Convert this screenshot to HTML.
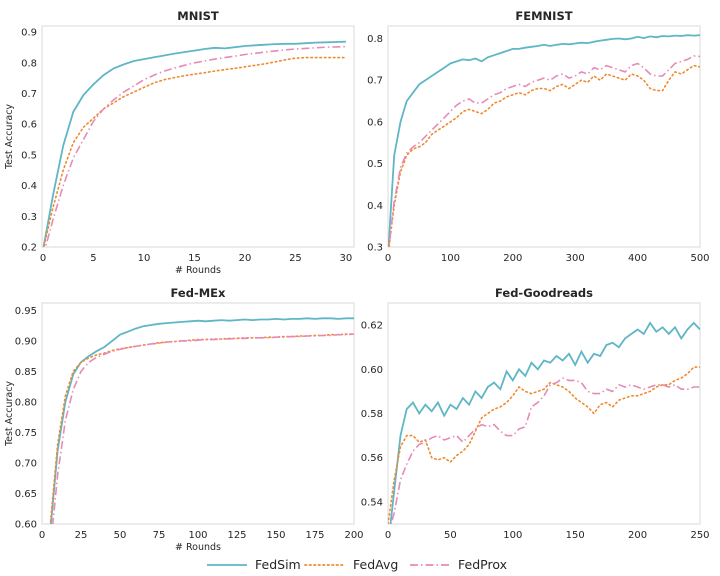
<!DOCTYPE html>
<html><head><meta charset="utf-8"><style>
html,body{margin:0;padding:0;background:#fff;overflow:hidden;font-family:"Liberation Sans","DejaVu Sans",sans-serif}
svg{display:block}
svg text{font-family:"DejaVu Sans","Liberation Sans",sans-serif;fill:#262626}
</style></head><body>
<svg id="c" width="720" height="576" xmlns="http://www.w3.org/2000/svg"></svg>
<script>
const seriesNames=["FedSim","FedAvg","FedProx"];
const mnistX=[0,1,2,3,4,5,6,7,8,9,10,11,12,13,14,15,16,17,18,19,20,21,22,23,24,25,26,27,28,29,30];
const mnistSim=[0.19,0.37,0.53,0.64,0.695,0.73,0.76,0.782,0.795,0.806,0.812,0.818,0.824,0.830,0.835,0.840,0.845,0.849,0.847,0.851,0.855,0.857,0.859,0.861,0.862,0.862,0.864,0.866,0.867,0.868,0.869];
const mnistAvg=[0.19,0.33,0.45,0.54,0.59,0.62,0.65,0.67,0.69,0.705,0.72,0.735,0.745,0.752,0.758,0.763,0.768,0.773,0.778,0.782,0.787,0.792,0.797,0.803,0.810,0.815,0.817,0.817,0.817,0.817,0.817];
const mnistProx=[0.17,0.29,0.40,0.49,0.55,0.61,0.65,0.68,0.705,0.725,0.745,0.76,0.773,0.783,0.792,0.80,0.806,0.812,0.817,0.822,0.827,0.831,0.835,0.839,0.842,0.845,0.847,0.849,0.851,0.852,0.853];
const femX=[0,10,20,30,40,50,60,70,80,90,100,110,120,130,140,150,160,170,180,190,200,210,220,230,240,250,260,270,280,290,300,310,320,330,340,350,360,370,380,390,400,410,420,430,440,450,460,470,480,490,500];
const femSim=[0.28,0.52,0.60,0.65,0.67,0.69,0.70,0.71,0.72,0.73,0.74,0.745,0.75,0.748,0.752,0.745,0.755,0.76,0.765,0.77,0.775,0.775,0.778,0.78,0.782,0.785,0.782,0.785,0.787,0.786,0.788,0.79,0.789,0.792,0.795,0.797,0.799,0.80,0.798,0.80,0.804,0.801,0.805,0.803,0.806,0.805,0.807,0.806,0.808,0.807,0.808];
const femAvg=[0.28,0.40,0.48,0.52,0.535,0.54,0.55,0.57,0.58,0.59,0.60,0.61,0.625,0.63,0.625,0.62,0.63,0.645,0.65,0.66,0.665,0.67,0.665,0.675,0.68,0.68,0.675,0.685,0.69,0.68,0.69,0.70,0.695,0.71,0.70,0.715,0.71,0.705,0.70,0.715,0.71,0.70,0.68,0.675,0.675,0.70,0.72,0.715,0.725,0.735,0.732];
const femProx=[0.28,0.41,0.49,0.525,0.54,0.55,0.565,0.58,0.595,0.61,0.625,0.64,0.65,0.655,0.645,0.645,0.655,0.665,0.67,0.68,0.685,0.69,0.685,0.695,0.70,0.705,0.70,0.71,0.715,0.705,0.71,0.72,0.715,0.73,0.725,0.735,0.73,0.725,0.72,0.735,0.74,0.73,0.715,0.71,0.71,0.725,0.74,0.745,0.75,0.758,0.757];
const mexX=[0,5,10,15,20,25,30,35,40,45,50,55,60,65,70,75,80,85,90,95,100,105,110,115,120,125,130,135,140,145,150,155,160,165,170,175,180,185,190,195,200];
const mexSim=[0.45,0.58,0.72,0.80,0.845,0.865,0.875,0.883,0.89,0.90,0.91,0.915,0.92,0.924,0.926,0.928,0.929,0.930,0.931,0.932,0.933,0.932,0.933,0.934,0.933,0.934,0.935,0.934,0.935,0.935,0.936,0.935,0.936,0.936,0.937,0.936,0.937,0.937,0.936,0.937,0.937];
const mexAvg=[0.45,0.59,0.73,0.81,0.85,0.865,0.872,0.877,0.88,0.884,0.887,0.889,0.891,0.893,0.895,0.897,0.898,0.899,0.900,0.901,0.902,0.902,0.903,0.903,0.904,0.904,0.905,0.905,0.905,0.906,0.906,0.907,0.907,0.908,0.908,0.909,0.909,0.910,0.910,0.911,0.911];
const mexProx=[0.42,0.55,0.68,0.77,0.82,0.85,0.865,0.873,0.878,0.883,0.886,0.889,0.891,0.893,0.895,0.896,0.898,0.899,0.900,0.900,0.901,0.902,0.902,0.903,0.903,0.904,0.904,0.905,0.905,0.905,0.906,0.906,0.907,0.907,0.908,0.908,0.909,0.909,0.910,0.910,0.911];
const grX=[0,5,10,15,20,25,30,35,40,45,50,55,60,65,70,75,80,85,90,95,100,105,110,115,120,125,130,135,140,145,150,155,160,165,170,175,180,185,190,195,200,205,210,215,220,225,230,235,240,245,250];
const grSim=[0.52,0.545,0.57,0.582,0.585,0.580,0.584,0.581,0.585,0.579,0.584,0.582,0.587,0.584,0.590,0.587,0.592,0.594,0.591,0.599,0.595,0.600,0.597,0.603,0.600,0.604,0.603,0.606,0.604,0.607,0.602,0.608,0.603,0.607,0.606,0.611,0.612,0.610,0.614,0.616,0.618,0.616,0.621,0.617,0.619,0.616,0.619,0.614,0.618,0.621,0.618];
const grAvg=[0.53,0.55,0.565,0.570,0.570,0.567,0.568,0.560,0.559,0.560,0.558,0.561,0.563,0.566,0.572,0.578,0.580,0.582,0.583,0.585,0.588,0.592,0.590,0.589,0.590,0.591,0.594,0.593,0.592,0.590,0.587,0.585,0.583,0.580,0.584,0.585,0.583,0.586,0.587,0.588,0.588,0.589,0.590,0.592,0.593,0.593,0.595,0.596,0.598,0.601,0.601];
const grProx=[0.525,0.535,0.550,0.557,0.563,0.566,0.567,0.569,0.570,0.568,0.569,0.570,0.567,0.570,0.573,0.575,0.574,0.575,0.572,0.570,0.570,0.573,0.574,0.583,0.585,0.588,0.593,0.594,0.596,0.595,0.595,0.594,0.590,0.589,0.589,0.591,0.590,0.593,0.592,0.593,0.592,0.591,0.592,0.593,0.593,0.592,0.593,0.591,0.591,0.592,0.592];
const mnistYTicks=[0.2,0.3,0.4,0.5,0.6,0.7,0.8,0.9];
const mnistXTicks=[0,5,10,15,20,25,30];
const femYTicks=[0.3,0.4,0.5,0.6,0.7,0.8];
const femXTicks=[0,100,200,300,400,500];
const mexYTicks=[0.60,0.65,0.70,0.75,0.80,0.85,0.90,0.95];
const mexXTicks=[0,25,50,75,100,125,150,175,200];
const grYTicks=[0.54,0.56,0.58,0.60,0.62];
const grXTicks=[0,50,100,150,200,250];

const NS="http://www.w3.org/2000/svg";
const svg=document.getElementById('c');
const colors=["#5fb6c6","#ef8a2e","#e68bb8"];
const dashes=["","1.5,3","8,3,1.5,3"];
function el(t,a,p){const e=document.createElementNS(NS,t);for(const k in a)e.setAttribute(k,a[k]);(p||svg).appendChild(e);return e;}
let cid=0;
function panel(name,title,box,xd,yd,xt,yt,yfmt,xs,ys,xlab,ylab){
  const g=el('g',{});
  
  
  const [L,T,R,B]=box;
  const sx=v=>L+(v-xd[0])/(xd[1]-xd[0])*(R-L);
  const sy=v=>B-(v-yd[0])/(yd[1]-yd[0])*(B-T);
  const id='cl'+(cid++);
  const cp=el('clipPath',{id:id},g);el('rect',{x:L,y:T,width:R-L,height:B-T},cp);
  const fr=el('rect',{x:L,y:T,width:R-L,height:B-T,fill:'none',stroke:'#e6e6e6','stroke-width':1.5},g);
  
  
  const t=el('text',{x:(L+R)/2,y:T-6,'text-anchor':'middle','font-size':11.5,'font-weight':'bold'},g);t.textContent=title;
  
  
  yt.forEach(v=>{const y=sy(v);const tx=el('text',{x:L-5,y:y+3.5,'text-anchor':'end','font-size':10},g);tx.textContent=v.toFixed(yfmt);
    
    });
  xt.forEach(v=>{const x=sx(v);const tx=el('text',{x:x,y:B+14,'text-anchor':'middle','font-size':10},g);tx.textContent=v;
    
    });
  if(xlab){const tx=el('text',{x:(L+R)/2,y:B+26,'text-anchor':'middle','font-size':9.5},g);tx.textContent=xlab;
    
    }
  if(ylab){const tx=el('text',{x:0,y:0,'text-anchor':'middle','font-size':9.5,transform:`translate(12,${(T+B)/2}) rotate(-90)`},g);tx.textContent=ylab;
    
    }
  ys.forEach((s,i)=>{const d=s.map((v,j)=>(j?'L':'M')+sx(xs[j]).toFixed(1)+','+sy(v).toFixed(1)).join('');
    const p=el('path',{d:d,fill:'none',stroke:colors[i],'stroke-width':i==0?1.8:1.6,'stroke-dasharray':dashes[i],'clip-path':`url(#${id})`,'stroke-linecap':i==1?'round':'butt'},g);
    
    });
}
panel('mnist','MNIST',[42,26,354,247],[-0.1,30.8],[0.2,0.92],mnistXTicks,mnistYTicks,1,mnistX,[mnistSim,mnistAvg,mnistProx],'# Rounds','Test Accuracy');
panel('femnist','FEMNIST',[388,26,700,247],[0,500],[0.3,0.83],femXTicks,femYTicks,1,femX,[femSim,femAvg,femProx],null,null);
panel('fed-mex','Fed-MEx',[42,303,354,524],[0,200],[0.6,0.962],mexXTicks,mexYTicks,2,mexX,[mexSim,mexAvg,mexProx],'# Rounds','Test Accuracy');
panel('fed-goodreads','Fed-Goodreads',[388,303,700,524],[0,250],[0.53,0.63],grXTicks,grYTicks,2,grX,[grSim,grAvg,grProx],null,null);
const lg=el('g',{});


const lx=[207,305,410];
seriesNames.forEach((n,i)=>{
  const ln=el('line',{x1:lx[i],y1:565,x2:lx[i]+40,y2:565,stroke:colors[i],'stroke-width':1.8,'stroke-dasharray':dashes[i],'stroke-linecap':i==1?'round':'butt'},lg);
  
  
  const t=el('text',{x:lx[i]+48,y:569,'font-size':12.5},lg);t.textContent=n;
  
  
});
</script>
</body></html>
